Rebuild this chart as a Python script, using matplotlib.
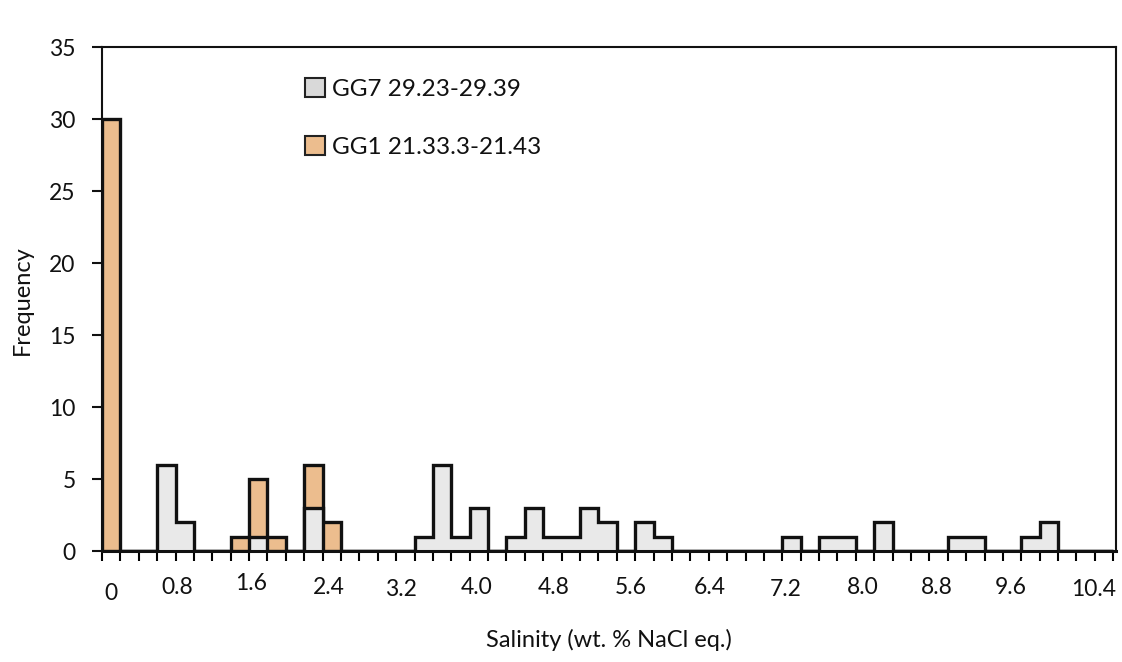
import numpy as np
import matplotlib
matplotlib.use("Agg")
import matplotlib.pyplot as plt
from matplotlib.patches import Patch
from matplotlib.transforms import blended_transform_factory, offset_copy

# ---- data ----
n_bins = 55  # salinity classes of 0.2 wt.% from 0 to 10.8
gg7_bins = [3, 4, 8, 11, 17, 18, 19, 20, 22, 23, 24, 25, 26, 27, 29, 30, 37, 39, 40, 42, 46, 47, 50, 51]
gg7_freq = [6, 2, 1, 3, 1, 6, 1, 3, 1, 3, 1, 1, 3, 2, 2, 1, 1, 1, 1, 2, 1, 1, 1, 2]
gg1_bins = [0, 7, 8, 9, 11, 12]
gg1_freq = [30, 1, 5, 1, 6, 2]
gg7_label = "GG7 29.23-29.39"
gg1_label = "GG1 21.33.3-21.43"
tick_labels = ["0", "0.8", "1.6", "2.4", "3.2", "4.0", "4.8", "5.6", "6.4",
               "7.2", "8.0", "8.8", "9.6", "10.4"]
x_title = "Salinity (wt. % NaCl eq.)"
y_title = "Frequency"

# layout of the hand-placed category labels (bin units / pixel offsets)
label_x = [0.0, 3.58, 7.61, 11.85, 15.77, 19.9, 24.04, 28.28, 32.58, 36.66, 40.9, 44.93, 48.9, 53.42]
label_dy = [42, 36, 32, 36, 39, 36, 36, 36, 36, 38, 36, 36, 36, 39]

gg7 = np.zeros(n_bins)
gg7[gg7_bins] = gg7_freq
gg1 = np.zeros(n_bins)
gg1[gg1_bins] = gg1_freq
idx = np.arange(n_bins)
edges = np.arange(n_bins + 1) - 0.5

plt.rcParams['font.family'] = ['Lato', 'DejaVu Sans']
plt.rcParams['hatch.color'] = '#9c9c9c'
plt.rcParams['hatch.linewidth'] = 0.8

W, H = 1122, 662
fig = plt.figure(figsize=(W / 100, H / 100), dpi=100)
L, R, T, B = 102, 1116, 47, 551
ax = fig.add_axes([L / W, 1 - B / H, (R - L) / W, (B - T) / H])

tan = '#ecbd8e'
grey = '#e9e9e9'
ink = '#111111'

ax.bar(idx, gg1, width=1.0, color=tan, edgecolor='none', zorder=2)
ax.stairs(gg1, edges, baseline=0, fill=False, edgecolor=ink, linewidth=2.4, zorder=3)
ax.bar(idx, gg7, width=1.0, color=grey, edgecolor='none', hatch='..', zorder=4)
ax.stairs(gg7, edges, baseline=0, fill=False, edgecolor=ink, linewidth=2.4, zorder=5)

ax.set_xlim(-0.5, n_bins - 0.5 + 0.15)
ax.set_ylim(0, 35)
ax.set_yticks(np.arange(0, 36, 5))
ax.tick_params(axis='y', direction='out', length=7, width=1.5, labelsize=16.5, pad=12, colors=ink)
ax.set_xticks(edges)
ax.tick_params(axis='x', direction='out', length=7, width=1.5, labelbottom=False)
for s in ax.spines.values():
    s.set_linewidth(1.5)
    s.set_color(ink)
    s.set_zorder(6)
ax.spines['bottom'].set_linewidth(2.2)

trans = blended_transform_factory(ax.transData, ax.transAxes)
for lab, lx, dy in zip(tick_labels, label_x, label_dy):
    t = offset_copy(trans, fig=fig, x=0, y=-dy, units='dots')
    ax.text(lx, 0, lab, transform=t, ha='center', va='center', fontsize=16.5, color=ink)

fig.text(609 / W, 1 - 640 / H, x_title, ha='center', va='center', fontsize=17, color=ink)
fig.text(22 / W, 1 - 300 / H, y_title, ha='center', va='center', rotation=90, fontsize=17, color=ink)

handles = [Patch(facecolor='#d9d9d9', edgecolor='#222222', linewidth=1.5, label=gg7_label),
           Patch(facecolor=tan, edgecolor='#222222', linewidth=1.5, label=gg1_label)]
leg = fig.legend(handles=handles, loc='upper left', bbox_to_anchor=(293 / W, 1 - 66 / H),
                 frameon=False, fontsize=17.5, handlelength=0.8, handleheight=0.8,
                 handletextpad=0.3, labelspacing=1.5, borderpad=0)
for txt in leg.get_texts():
    txt.set_color(ink)

fig.savefig('out.png', dpi=100)
